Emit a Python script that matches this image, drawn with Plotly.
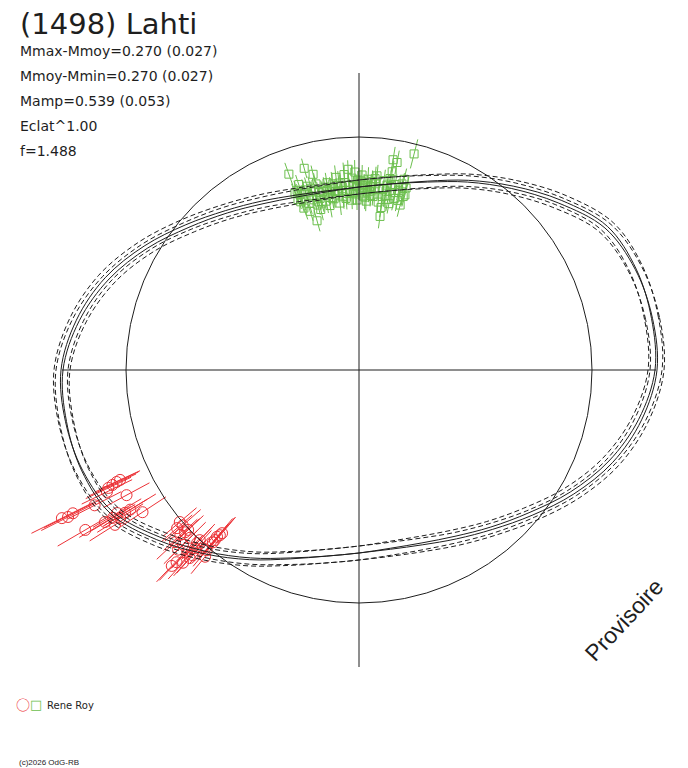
import numpy as np
import plotly.graph_objects as go

# polar lightcurve fit: radius at each angle for half a turn (the other half repeats)
fit_theta = [0, 10, 20, 30, 40, 50, 60, 70, 80, 90, 100, 110, 120, 130, 140, 150, 160, 170]
fit_r = [298, 298, 294, 284, 260, 237, 217, 200, 189, 183, 182, 186, 195, 208, 226, 248, 270, 287]
fit_r_alt = [296, 297, 295, 287, 264, 240, 219, 201, 189, 183, 181, 184, 192, 205, 222, 244, 266, 284]
fit_sigma = 7

# session 1 (green squares) - angle in degrees, radius, radial error
green_theta = [109.7, 105.2, 103.2, 99.7, 105.7, 108.8, 108.6, 109.0, 108.4, 106.7,
               106.7, 105.1, 103.7, 104.0, 102.8, 101.4, 101.0, 99.7, 98.7, 98.3,
               96.8, 96.7, 95.6, 95.3, 94.3, 93.1, 92.9, 92.1, 91.6, 91.0,
               90.3, 89.7, 89.1, 88.5, 87.7, 87.3, 86.6, 86.1, 85.2, 84.8,
               83.5, 82.2, 82.3, 82.4, 81.5, 81.4, 80.8, 80.5, 80.8, 79.6,
               78.5, 77.1, 76.0, 75.7, 76.7, 75.5, 75.7, 108.0, 105.8, 103.0,
               100.5, 98.0, 93.9, 90.7, 88.7, 86.1, 80.4, 107.1, 103.4, 96.5,
               109.1, 109.9, 94.4, 92.4, 84.7, 87.6, 100.0, 82.5, 79.0, 91.2,
               109.7, 106.7, 104.8, 104.8, 102.7, 102.5, 99.8, 98.9, 97.7, 96.1,
               95.4, 94.3, 93.1, 91.9, 90.6, 89.4, 88.0, 87.5, 86.8, 85.4,
               85.2, 83.7, 82.4, 81.4, 79.8, 80.1, 78.4, 77.5, 77.0, 75.3]
green_r = [208, 209, 201, 190, 155, 171, 185, 190, 180, 185,
           174, 180, 185, 170, 176, 182, 172, 178, 184, 173,
           194, 179, 185, 174, 188, 201, 180, 192, 184, 176,
           190, 182, 195, 185, 178, 191, 184, 189, 181, 187,
           169, 155, 164, 182, 176, 187, 194, 201, 213, 211,
           181, 174, 170, 179, 196, 188, 223, 195, 191, 191,
           186, 188, 177, 170, 174, 175, 173, 166, 165, 168,
           178, 188, 196, 170, 195, 169, 167, 191, 189, 198,
           181, 188, 188, 176, 182, 171, 183, 174, 180, 188,
           180, 172, 185, 177, 184, 189, 173, 185, 179, 174,
           192, 183, 175, 181, 169, 187, 175, 184, 191, 181]
green_err = [12, 10, 9, 10, 11, 12, 11, 10, 12, 9,
             11, 10, 12, 10, 9, 11, 12, 10, 11, 9,
             12, 10, 11, 12, 10, 9, 11, 12, 10, 11,
             9, 12, 10, 11, 10, 12, 9, 11, 10, 12,
             11, 12, 10, 9, 11, 10, 12, 11, 13, 12,
             10, 11, 12, 10, 11, 12, 15, 10, 9, 11,
             10, 12, 11, 10, 9, 11, 12, 10, 11, 12,
             11, 10, 12, 9, 11, 10, 12, 11, 10, 12,
             10, 11, 12, 10, 11, 9, 12, 10, 11, 12,
             10, 11, 9, 12, 10, 11, 12, 10, 11, 9,
             12, 10, 11, 12, 10, 11, 12, 10, 11, 12]

# session 2 (red circles)
red_theta = [204.8, 205.0, 205.2, 204.7, 205.8, 208.3, 207.1, 206.6, 206.5, 206.8,
             210.3, 210.9, 210.6, 211.4, 211.4, 213.3, 212.4, 211.8, 211.0,
             220.3, 221.0, 221.4, 223.1, 222.7, 224.8, 223.1, 224.8, 226.9, 229.6,
             230.0, 229.7, 228.8, 226.5, 227.6, 228.1, 229.8, 226.6, 224.8, 226.9,
             228.0, 229.7, 229.9, 230.5, 223.0, 227.4, 226.3]
red_r = [267, 272, 277, 263, 280, 264, 297, 320, 332, 326,
         317, 296, 281, 274, 268, 259, 289, 281, 287,
         235, 241, 235, 234, 243, 238, 252, 248, 237, 219,
         213, 226, 237, 265, 261, 249, 236, 250, 255, 233,
         253, 223, 216, 242, 238, 242, 271]
red_err = [24, 26, 25, 22, 28, 26, 30, 32, 34, 30,
           32, 30, 28, 26, 30, 28, 30, 27, 26,
           22, 20, 24, 21, 23, 22, 25, 20, 22, 24,
           21, 23, 20, 25, 22, 24, 21, 23, 20, 22,
           24, 21, 23, 22, 20, 24, 22]

ref_radius = 233
axis_half = 297

GREEN = "#6cbf4e"
RED = "#ec3237"
INK = "#1e1e1e"


def to_xy(theta, r):
    t = np.radians(np.asarray(theta, dtype=float))
    r = np.asarray(r, dtype=float)
    return r * np.cos(t), r * np.sin(t)


def closed_curve(r_half, offset=0):
    th = list(fit_theta) + [t + 180 for t in fit_theta] + [360]
    rr = [v + offset for v in list(r_half) + list(r_half) + [r_half[0]]]
    return to_xy(th, rr)


def radial_bars(theta, r, err):
    xs, ys = [], []
    for t, rv, e in zip(theta, r, err):
        x, y = to_xy([t, t], [rv - e, rv + e])
        xs += [x[0], x[1], None]
        ys += [y[0], y[1], None]
    return xs, ys


fig = go.Figure()

# error bars (radial) then markers
for th, rr, ee, col, sym, sz in [
    (green_theta, green_r, green_err, GREEN, "square-open", 8),
    (red_theta, red_r, red_err, RED, "circle-open", 11),
]:
    bx, by = radial_bars(th, rr, ee)
    fig.add_trace(go.Scatter(x=bx, y=by, mode="lines",
                             line=dict(color=col, width=1), hoverinfo="skip"))
    px_, py_ = to_xy(th, rr)
    fig.add_trace(go.Scatter(x=px_, y=py_, mode="markers",
                             marker=dict(symbol=sym, size=sz, color=col, line=dict(width=1))))

# fitted curves: two solutions, each with +/- sigma dashed
for rh in (fit_r, fit_r_alt):
    for off in (-fit_sigma, fit_sigma):
        cx, cy = closed_curve(rh, off)
        fig.add_trace(go.Scatter(x=cx, y=cy, mode="lines", line_shape="spline",
                                 line=dict(color=INK, width=1, dash="5px,3px"), hoverinfo="skip"))
    cx, cy = closed_curve(rh)
    fig.add_trace(go.Scatter(x=cx, y=cy, mode="lines", line_shape="spline",
                             line=dict(color=INK, width=1), hoverinfo="skip"))

# reference circle and cross
fig.add_shape(type="circle", x0=-ref_radius, x1=ref_radius, y0=-ref_radius, y1=ref_radius,
              line=dict(color=INK, width=1), layer="above")
fig.add_shape(type="line", x0=-axis_half, x1=axis_half, y0=0, y1=0,
              line=dict(color=INK, width=1), layer="above")
fig.add_shape(type="line", x0=0, x1=0, y0=-axis_half, y1=axis_half,
              line=dict(color=INK, width=1), layer="above")

W, H = 688, 768


def note(text, px, py, size, family="DejaVu Sans", color=INK, **kw):
    fig.add_annotation(text=text, x=px / W, y=1 - py / H, xref="paper", yref="paper",
                       showarrow=False, xanchor=kw.pop("xanchor", "left"), yanchor="middle",
                       font=dict(family=family, size=size, color=color), **kw)


note("(1498) Lahti", 18, 24, 29)
stats = ["Mmax-Mmoy=0.270 (0.027)", "Mmoy-Mmin=0.270 (0.027)", "Mamp=0.539 (0.053)",
         "Eclat^1.00", "f=1.488"]
for i, s in enumerate(stats):
    note(s, 18, 51 + 25 * i, 14)

note("Provisoire", 624, 620, 23, family="Liberation Sans", xanchor="center", textangle=-47)
note("○", 14, 704, 14, family="Noto Sans CJK SC", color=RED)
note("□", 28, 704, 13, color=GREEN)
note("Rene Roy", 45, 705, 10)
note("(c)2026 OdG-RB", 17, 762, 8, family="Liberation Sans")

fig.update_layout(
    width=W, height=H,
    margin=dict(l=0, r=0, t=0, b=0),
    paper_bgcolor="white", plot_bgcolor="white",
    showlegend=False,
    xaxis=dict(range=[-359, W - 359], visible=False),
    yaxis=dict(range=[370 - H, 370], visible=False),
)

fig.write_html("out.html", config={"displayModeBar": False},
               post_script="document.body.style.margin='0';document.body.style.overflow='hidden';")
